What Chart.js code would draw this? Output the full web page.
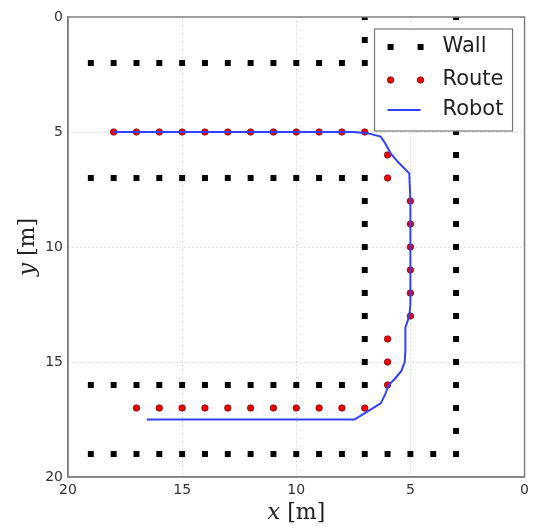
<!DOCTYPE html>
<html>
<head>
<meta charset="utf-8">
<script src="https://cdn.jsdelivr.net/npm/chart.js@4.4.0/dist/chart.umd.min.js"></script>
<style>
  html, body { margin: 0; padding: 0; background: #fff; }
  #wrap { width: 534px; height: 530px; }
</style>
</head>
<body>
<div id="wrap"><canvas id="c" width="534" height="530"></canvas></div>
<script>
// ---- data ----
const seriesLabels = ['Wall', 'Route', 'Robot'];
const xTicks = [20, 15, 10, 5, 0];
const yTicks = [0, 5, 10, 15, 20];
const xTitle = ['x', ' [m]'];
const yTitle = ['y', ' [m]'];

const wallX = [
  19, 18, 17, 16, 15, 14, 13, 12, 11, 10, 9, 8, 7,
  7, 7,
  19, 18, 17, 16, 15, 14, 13, 12, 11, 10, 9, 8, 7,
  7, 7, 7, 7, 7, 7, 7, 7,
  19, 18, 17, 16, 15, 14, 13, 12, 11, 10, 9, 8, 7,
  19, 18, 17, 16, 15, 14, 13, 12, 11, 10, 9, 8, 7, 6, 5, 4, 3,
  3, 3, 3, 3, 3, 3, 3, 3, 3, 3, 3, 3, 3, 3, 3, 3, 3, 3, 3
];
const wallY = [
  2, 2, 2, 2, 2, 2, 2, 2, 2, 2, 2, 2, 2,
  0, 1,
  7, 7, 7, 7, 7, 7, 7, 7, 7, 7, 7, 7, 7,
  8, 9, 10, 11, 12, 13, 14, 15,
  16, 16, 16, 16, 16, 16, 16, 16, 16, 16, 16, 16, 16,
  19, 19, 19, 19, 19, 19, 19, 19, 19, 19, 19, 19, 19, 19, 19, 19, 19,
  0, 1, 2, 3, 4, 5, 6, 7, 8, 9, 10, 11, 12, 13, 14, 15, 16, 17, 18
];

const routeX = [18, 17, 16, 15, 14, 13, 12, 11, 10, 9, 8, 7, 6, 6, 5, 5, 5, 5, 5, 5, 6, 6, 6,
                7, 8, 9, 10, 11, 12, 13, 14, 15, 16, 17];
const routeY = [5, 5, 5, 5, 5, 5, 5, 5, 5, 5, 5, 5, 6, 7, 8, 9, 10, 11, 12, 13, 14, 15, 16,
                17, 17, 17, 17, 17, 17, 17, 17, 17, 17, 17];

const robotX = [18, 7.5, 6.9, 6.3, 6.1, 5.85, 5.5, 5.05, 5.0, 5.0, 5.05, 5.15, 5.22, 5.22,
                5.25, 5.4, 5.7, 5.95, 6.1, 6.3, 6.8, 7.45, 16.55];
const robotY = [5, 5, 5.05, 5.2, 5.5, 5.95, 6.35, 6.8, 8, 12.5, 13.0, 13.3, 13.5, 14.5,
                15.0, 15.4, 15.75, 16.0, 16.4, 16.8, 17.1, 17.5, 17.5];

const toPts = (xs, ys) => xs.map((x, i) => ({x: x, y: ys[i]}));

function drawMixedTitle(ctx, parts, cx, cy, rot) {
  ctx.save();
  ctx.translate(cx, cy);
  ctx.rotate(rot);
  const fItal = 'italic 23px "DejaVu Serif"';
  const fUp = '22px "DejaVu Serif"';
  ctx.font = fItal; const w0 = ctx.measureText(parts[0]).width;
  ctx.font = fUp; const w1 = ctx.measureText(parts[1]).width;
  let x = -(w0 + w1) / 2;
  ctx.fillStyle = '#222';
  ctx.textBaseline = 'middle';
  ctx.textAlign = 'left';
  ctx.font = fItal; ctx.fillText(parts[0], x, 0);
  ctx.font = fUp; ctx.fillText(parts[1], x + w0, 0);
  ctx.restore();
}

const frameLegend = {
  id: 'frameLegend',
  afterDatasetsDraw(chart) {
    const {ctx, chartArea: a} = chart;
    ctx.save();
    // axes frame
    ctx.strokeStyle = '#808080';
    ctx.lineWidth = 1.5;
    ctx.strokeRect(a.left, a.top, a.right - a.left, a.bottom - a.top);
    // legend box
    const bx = a.right - 150, by = a.top + 12, bw = 138, bh = 102;
    ctx.fillStyle = '#ffffff';
    ctx.fillRect(bx, by, bw, bh);
    ctx.strokeStyle = '#777';
    ctx.lineWidth = 1.2;
    ctx.strokeRect(bx, by, bw, bh);
    const rowsY = [by + 18, by + 51, by + 81];
    const m1 = bx + 16, m2 = bx + 46, tx = bx + 68;
    chart.data.datasets.forEach((ds, i) => {
      const yy = rowsY[i];
      if (ds.showLine) {
        ctx.strokeStyle = ds.borderColor;
        ctx.lineWidth = ds.borderWidth;
        ctx.beginPath(); ctx.moveTo(m1 - 3, yy); ctx.lineTo(m2, yy); ctx.stroke();
      } else {
        [m1, m2].forEach(mx => {
          if (ds.pointStyle === 'rect') {
            ctx.fillStyle = ds.pointBackgroundColor;
            ctx.fillRect(mx - 3, yy - 3, 6, 6);
          } else {
            ctx.beginPath();
            ctx.arc(mx, yy, ds.pointRadius, 0, Math.PI * 2);
            ctx.fillStyle = ds.pointBackgroundColor;
            ctx.fill();
            ctx.strokeStyle = ds.pointBorderColor;
            ctx.lineWidth = ds.pointBorderWidth;
            ctx.stroke();
          }
        });
      }
      ctx.fillStyle = '#222';
      ctx.font = '21px "DejaVu Sans"';
      ctx.textAlign = 'left';
      ctx.textBaseline = 'middle';
      ctx.fillText(ds.label, tx, yy);
    });
    ctx.restore();
    // axis titles (italic variable, upright unit)
    drawMixedTitle(ctx, xTitle, (a.left + a.right) / 2, 513, 0);
    drawMixedTitle(ctx, yTitle, 28, (a.top + a.bottom) / 2, -Math.PI / 2);
  }
};

new Chart(document.getElementById('c'), {
  type: 'scatter',
  data: {
    datasets: [
      {
        label: seriesLabels[0],
        data: toPts(wallX, wallY),
        showLine: false,
        pointStyle: 'rect',
        pointRadius: 4.2,
        pointBackgroundColor: '#000000',
        pointBorderColor: '#000000',
        pointBorderWidth: 0,
        order: 2
      },
      {
        label: seriesLabels[1],
        data: toPts(routeX, routeY),
        showLine: false,
        pointStyle: 'circle',
        pointRadius: 3.3,
        pointBackgroundColor: '#ee0000',
        pointBorderColor: '#660000',
        pointBorderWidth: 0.6,
        order: 1
      },
      {
        label: seriesLabels[2],
        data: toPts(robotX, robotY),
        showLine: true,
        borderColor: '#3040ff',
        borderWidth: 2,
        pointRadius: 0,
        tension: 0,
        fill: false,
        order: 0
      }
    ]
  },
  options: {
    responsive: false,
    animation: false,
    events: [],
    layout: { padding: { top: 17, right: 7, left: 0, bottom: 0 } },
    plugins: {
      legend: { display: false },
      tooltip: { enabled: false }
    },
    scales: {
      x: {
        type: 'linear',
        reverse: true,
        min: 0, max: 20,
        afterBuildTicks: s => { s.ticks = xTicks.map(v => ({value: v})); },
        afterFit: s => { s.height = 53; },
        ticks: { color: '#333', font: { family: 'DejaVu Sans', size: 14 }, padding: 5, maxRotation: 0 },
        grid: { color: 'rgba(0,0,0,0.3)', lineWidth: 0.8, drawTicks: false },
        border: { display: true, color: '#808080', width: 1.5, dash: [1, 3] },
        title: { display: false }
      },
      y: {
        type: 'linear',
        reverse: true,
        min: 0, max: 20,
        afterBuildTicks: s => { s.ticks = yTicks.map(v => ({value: v})); },
        afterFit: s => { s.width = 68; },
        ticks: { color: '#333', font: { family: 'DejaVu Sans', size: 14 }, padding: 5 },
        grid: { color: 'rgba(0,0,0,0.3)', lineWidth: 0.8, drawTicks: false },
        border: { display: true, color: '#808080', width: 1.5, dash: [1, 3] },
        title: { display: false }
      }
    }
  },
  plugins: [frameLegend]
});
</script>
</body>
</html>
